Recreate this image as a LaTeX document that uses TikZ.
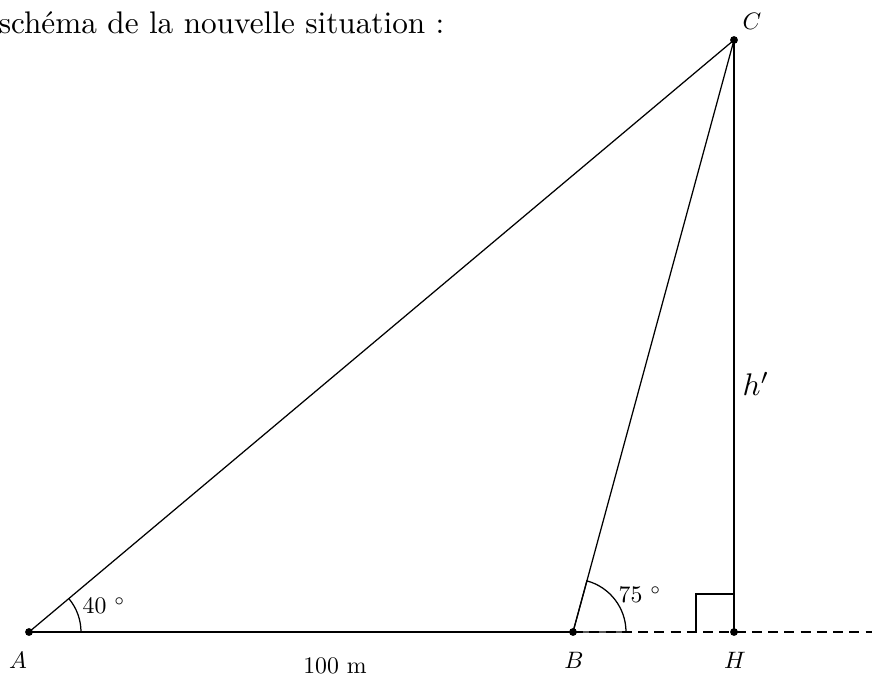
\documentclass[tikz,border=0pt]{standalone}
\usepackage{tikz}
\newcommand{\lbl}[1]{\scalebox{0.76}{#1}}
\begin{document}
\begin{tikzpicture}[x=0.32pt,y=0.32pt,
  seg/.style={line width=0.4pt},
  dot/.style={circle,fill=black,inner sep=0pt,minimum size=2.5pt},
  lab/.style={font=\fontsize{10}{12}\selectfont,inner sep=0pt},
  dashline/.style={line width=0.4pt,dash pattern=on 3.2pt off 2pt}]
\useasboundingbox (0,0) rectangle (874,675);
% title
\node[anchor=base east,inner sep=0pt,font=\fontsize{10}{12}\selectfont] (title) at (445,641) {sch\'ema de la nouvelle situation :};
% points
\coordinate (A) at (29,43);
\coordinate (B) at (573,43);
\coordinate (H) at (734,43);
\coordinate (C) at (734,635);
\coordinate (E) at (872,43);
% lines
\draw[seg] (A) -- (B);
\draw[dashline] (B) -- (E);
\draw[seg] (A) -- (C);
\draw[seg] (B) -- (C);
\draw[seg] (H) -- (C);
% angles
\draw[seg] ([xshift=52*0.32pt]A) arc (0:40:52);
\draw[seg] (B) -- ([xshift=53*0.32pt]B) arc (0:74.8:53) -- cycle;
% right angle
\draw[seg] ([xshift=-38*0.32pt]H) -- ++(0,38) -- ++(38,0);
% dots
\node[dot] (dA) at (A) {};
\node[dot] (dB) at (B) {};
\node[dot] (dH) at (H) {};
\node[dot] (dC) at (C) {};
% labels
\node[lab] (lA) at (18,15) {\lbl{$A$}};
\node[lab] (lB) at (574,15) {\lbl{$B$}};
\node[lab] (lH) at (735,15) {\lbl{$H$}};
\node[lab] (lC) at (752,654) {\lbl{$C$}};
\node[lab] (l100) at (335,9) {\lbl{100 m}};
\node[lab] (l40) at (104,69) {\lbl{40 $^\circ$}};
\node[lab] (l75) at (640,80) {\lbl{75 $^\circ$}};
\node[lab,font=\fontsize{9.6}{12}\selectfont] (lh) at (756,291) {$h'$};
\end{tikzpicture}
\end{document}
